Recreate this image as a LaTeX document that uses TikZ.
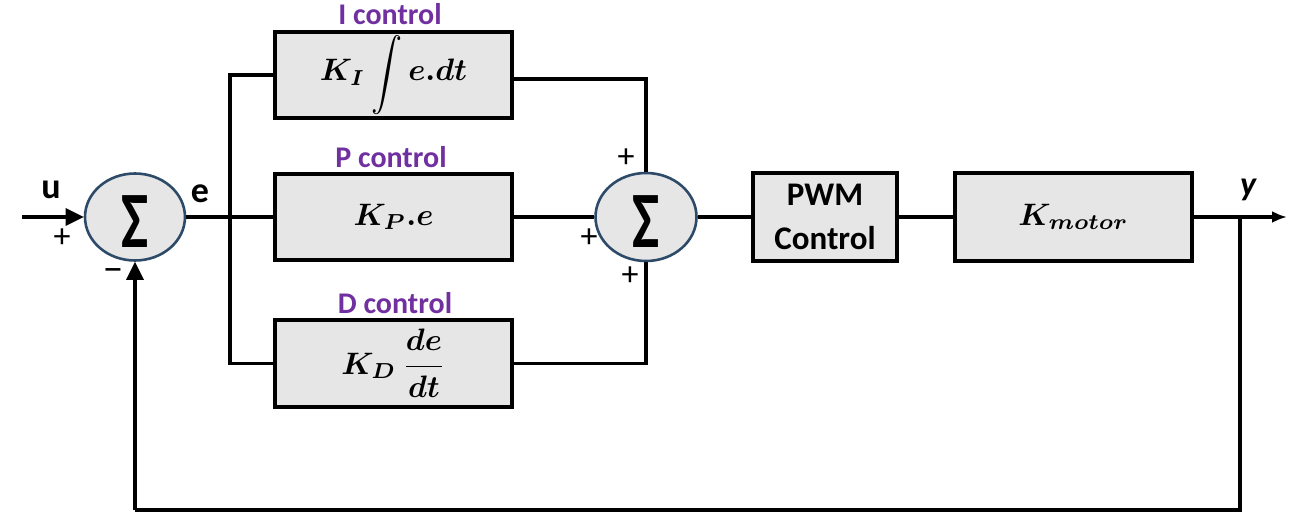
\documentclass[tikz,border=0pt]{standalone}
\usepackage[no-math]{fontspec}
\usepackage{amsmath}
\usepackage{graphicx}
\usetikzlibrary{shapes.geometric,arrows.meta,calc}
\newfontfamily\carl{Carlito}
\newcommand{\mymath}[1]{\scalebox{3.1}{\fontsize{10}{12}\selectfont\boldmath$#1$}}
\definecolor{boxfill}{RGB}{230,230,230}
\definecolor{sumedge}{RGB}{45,75,105}
\definecolor{ctlpurple}{RGB}{112,48,160}
\tikzset{
  blk/.style={draw=black, fill=boxfill, line width=3.2pt, rectangle, inner sep=0pt, minimum width=237pt, minimum height=86pt},
  sumnode/.style={draw=sumedge, fill=boxfill, line width=2.6pt, ellipse, inner sep=0pt, minimum width=100pt, minimum height=87pt},
  sigmatxt/.style={font=\carl\bfseries\fontsize{80}{80}\selectfont, inner sep=0pt},
  ctllbl/.style={font=\carl\bfseries\fontsize{30}{34}\selectfont, text=ctlpurple, inner sep=0pt},
  siglbl/.style={font=\carl\bfseries\fontsize{36}{40}\selectfont, inner sep=0pt},
  signlbl/.style={font=\carl\fontsize{34}{36}\selectfont, inner sep=0pt},
  wire/.style={line width=3.1pt},
}
\begin{document}
\begin{tikzpicture}[x=1pt,y=-1pt]
\useasboundingbox (0,0) rectangle (1289,513);
% nodes
\node[sumnode] (s1) at (135,217) {};
\node[sigmatxt] (s1l) at (135,222) {\scalebox{0.72}[1]{Σ}};
\coordinate (in) at (22,217);
\coordinate (j) at (230,217);
\node[blk] (I) at (393.5,75) {\mymath{K_I\,\raisebox{-1pt}{\scalebox{1}[1.15]{$\displaystyle\int$}}\, e.dt}};
\node[blk] (P) at (393.5,217) {\mymath{K_P.e}};
\node[blk, minimum height=87pt] (D) at (393.5,363.5) {\mymath{K_D\,\dfrac{de}{dt}}};
\node[sumnode, minimum width=101pt, minimum height=88pt] (s2) at (646,217) {};
\node[sigmatxt] (s2l) at (646,222) {\scalebox{0.72}[1]{Σ}};
\node[blk, minimum width=144pt, minimum height=88pt, align=center,
      font=\carl\bfseries\fontsize{33}{44}\selectfont] (PWM) at (825,217) {PWM\\Control};
\node[blk, minimum height=88pt] (Km) at (1073.5,217) {\mymath{K_{motor}}};
\coordinate (out) at (1287,217);
\coordinate (fbr) at (1240,217);
\coordinate (fbbr) at (1240,510);
\coordinate (fbbl) at (135,510);
% labels
\node[ctllbl] (Il) at (390,14) {I control};
\node[ctllbl] (Pl) at (391,157) {P control};
\node[ctllbl] (Dl) at (395,303) {D control};
\node[siglbl] (ul) at (51,190) {u};
\node[siglbl] (el) at (200,194) {e};
\node[siglbl, font=\carl\bfseries\itshape\fontsize{34}{40}\selectfont] (yl) at (1248,190) {y};
\node[signlbl] (p1) at (62,238) {+};
\node[signlbl, font=\carl\fontsize{40}{40}\selectfont] (m1) at (113,276) {−};
\node[signlbl] (p2) at (626,158) {+};
\node[signlbl] (p3) at (589,238) {+};
\node[signlbl] (p4) at (630,276) {+};
% connectors
\draw[wire, -{Triangle[length=18pt,width=17pt]}] (in) -- (s1.west);
\draw[wire] (s1.east) -- (j) -- (P.west);
\draw[wire] (I.west) -| (j) |- (D.west);
\draw[wire] ([yshift=-4pt]I.east) -| (s2.north);
\draw[wire] (P.east) -- (s2.west);
\draw[wire] (D.east) -| (s2.south);
\draw[wire] (s2.east) -- (PWM.west);
\draw[wire] (PWM.east) -- (Km.west);
\draw[wire, -{Latex[length=15pt,width=12pt]}] (Km.east) -- (out);
\draw[wire] (fbr) -- (fbbr) -- (fbbl);
\draw[wire, -{Triangle[length=18pt,width=17pt]}] (fbbl) -- (s1.south);
\end{tikzpicture}
\end{document}
